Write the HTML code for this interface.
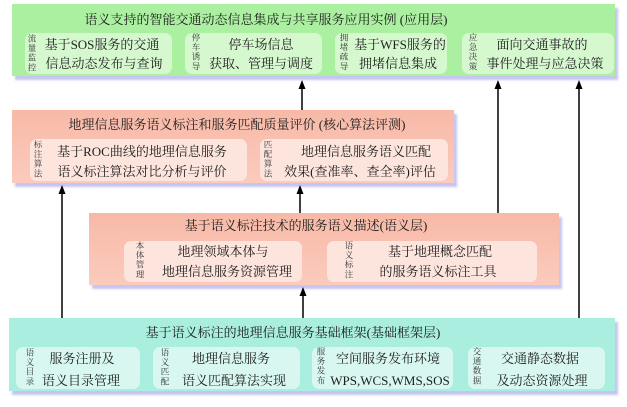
<!DOCTYPE html>
<html><head><meta charset="utf-8">
<style>
*{margin:0;padding:0;box-sizing:border-box}
html,body{width:627px;height:407px;background:#fff;overflow:hidden}
body{position:relative;font-family:"Liberation Serif","Noto Serif CJK SC",serif;color:#1e1e1e}
.box{position:absolute;box-shadow:3px 4px 2px rgba(150,150,225,0.55)}
.g{background:#abf0a0}
.p{background:linear-gradient(#f8b9a7,#fbcbbd)}
.t{background:#a9eedf}
.in{position:absolute;border-radius:7px}
.gi{background:#d6f8cf}
.pi{background:#fde5de}
.ti{background:#d8f7f0}
.tx{position:absolute;width:400px;height:18px;line-height:18px;text-align:center;font-size:13px;white-space:nowrap}
.vl{position:absolute;writing-mode:vertical-rl;width:12px;height:42px;line-height:12px;font-size:8.5px;letter-spacing:1.1px;color:#333;white-space:nowrap}
svg{position:absolute;left:0;top:0}
</style></head><body>

<!-- Green application layer -->
<div class="box g" style="left:12px;top:4px;width:603px;height:72px"></div>
<div class="in gi" style="left:25px;top:33px;width:147px;height:41px"></div>
<div class="in gi" style="left:185px;top:33px;width:137px;height:41px"></div>
<div class="in gi" style="left:335px;top:33px;width:112px;height:41px"></div>
<div class="in gi" style="left:462px;top:33px;width:152px;height:41px"></div>

<!-- Pink core layer -->
<div class="box p" style="left:12px;top:110px;width:442px;height:73px"></div>
<div class="in pi" style="left:30px;top:139px;width:217px;height:42px"></div>
<div class="in pi" style="left:260px;top:139px;width:188px;height:42px"></div>

<!-- Pink semantic layer -->
<div class="box p" style="left:89px;top:213px;width:470px;height:72px"></div>
<div class="in pi" style="left:124px;top:241px;width:178px;height:41px"></div>
<div class="in pi" style="left:327px;top:241px;width:210px;height:41px"></div>

<!-- Teal base layer -->
<div class="box t" style="left:9px;top:318px;width:606px;height:73px"></div>
<div class="in ti" style="left:16px;top:347px;width:124px;height:42px"></div>
<div class="in ti" style="left:153px;top:347px;width:147px;height:42px"></div>
<div class="in ti" style="left:312px;top:347px;width:141px;height:42px"></div>
<div class="in ti" style="left:468px;top:347px;width:137px;height:42px"></div>

<!-- connectors -->
<svg width="627" height="407" viewBox="0 0 627 407">
<g stroke="#000" stroke-width="1.5" fill="none">
<line x1="302" y1="88" x2="302" y2="110"/>
<line x1="498" y1="88" x2="498" y2="213"/>
<line x1="579" y1="88" x2="579" y2="318"/>
<line x1="62" y1="193" x2="62" y2="318"/>
<line x1="300" y1="193" x2="300" y2="213"/>
<line x1="303" y1="295" x2="303" y2="318"/>
</g>
<g fill="#000">
<polygon points="302,80 298.5,89 305.5,89"/>
<polygon points="498,80 494.5,89 501.5,89"/>
<polygon points="579,80 575.5,89 582.5,89"/>
<polygon points="62,185 58.5,194 65.5,194"/>
<polygon points="300,185 296.5,194 303.5,194"/>
<polygon points="303,287 299.5,296 306.5,296"/>
</g>
</svg>

<!-- Green texts -->
<div class="tx" style="left:66px;top:11px">语义支持的智能交通动态信息集成与共享服务应用实例 (应用层)</div>
<div class="vl" style="left:26px;top:34px">流量监控</div>
<div class="tx" style="left:-98px;top:36px">基于SOS服务的交通</div>
<div class="tx" style="left:-96px;top:55px">信息动态发布与查询</div>
<div class="vl" style="left:190px;top:33px">停车诱导</div>
<div class="tx" style="left:61px;top:36px">停车场信息</div>
<div class="tx" style="left:61px;top:55px">获取、管理与调度</div>
<div class="vl" style="left:338px;top:33px">拥堵疏导</div>
<div class="tx" style="left:200px;top:36px">基于WFS服务的</div>
<div class="tx" style="left:198px;top:55px">拥堵信息集成</div>
<div class="vl" style="left:467px;top:33px">应急决策</div>
<div class="tx" style="left:342px;top:36px">面向交通事故的</div>
<div class="tx" style="left:345px;top:55px">事件处理与应急决策</div>

<!-- Pink core texts -->
<div class="tx" style="left:37px;top:116px">地理信息服务语义标注和服务匹配质量评价 (核心算法评测)</div>
<div class="vl" style="left:32px;top:140px">标注算法</div>
<div class="tx" style="left:-58px;top:143px">基于ROC曲线的地理信息服务</div>
<div class="tx" style="left:-58px;top:163px">语义标注算法对比分析与评价</div>
<div class="vl" style="left:262px;top:140px">匹配算法</div>
<div class="tx" style="left:166px;top:143px">地理信息服务语义匹配</div>
<div class="tx" style="left:160px;top:163px">效果(查准率、查全率)评估</div>

<!-- Pink semantic texts -->
<div class="tx" style="left:106px;top:217px">基于语义标注技术的服务语义描述(语义层)</div>
<div class="vl" style="left:134px;top:241px">本体管理</div>
<div class="tx" style="left:23px;top:243px">地理领域本体与</div>
<div class="tx" style="left:27px;top:263px">地理信息服务资源管理</div>
<div class="vl" style="left:343px;top:241px">语义标注</div>
<div class="tx" style="left:240px;top:243px">基于地理概念匹配</div>
<div class="tx" style="left:238px;top:263px">的服务语义标注工具</div>

<!-- Teal base texts -->
<div class="tx" style="left:93px;top:324px">基于语义标注的地理信息服务基础框架(基础框架层)</div>
<div class="vl" style="left:24px;top:348px">语义目录</div>
<div class="tx" style="left:-118px;top:350px">服务注册及</div>
<div class="tx" style="left:-119px;top:372px">语义目录管理</div>
<div class="vl" style="left:159px;top:348px">语义匹配</div>
<div class="tx" style="left:31px;top:350px">地理信息服务</div>
<div class="tx" style="left:34px;top:372px">语义匹配算法实现</div>
<div class="vl" style="left:315px;top:347px">服务发布</div>
<div class="tx" style="left:188px;top:350px">空间服务发布环境</div>
<div class="tx" style="left:190px;top:372px">WPS,WCS,WMS,SOS</div>
<div class="vl" style="left:471px;top:347px">交通数据</div>
<div class="tx" style="left:340px;top:350px">交通静态数据</div>
<div class="tx" style="left:342px;top:372px">及动态资源处理</div>

</body></html>
